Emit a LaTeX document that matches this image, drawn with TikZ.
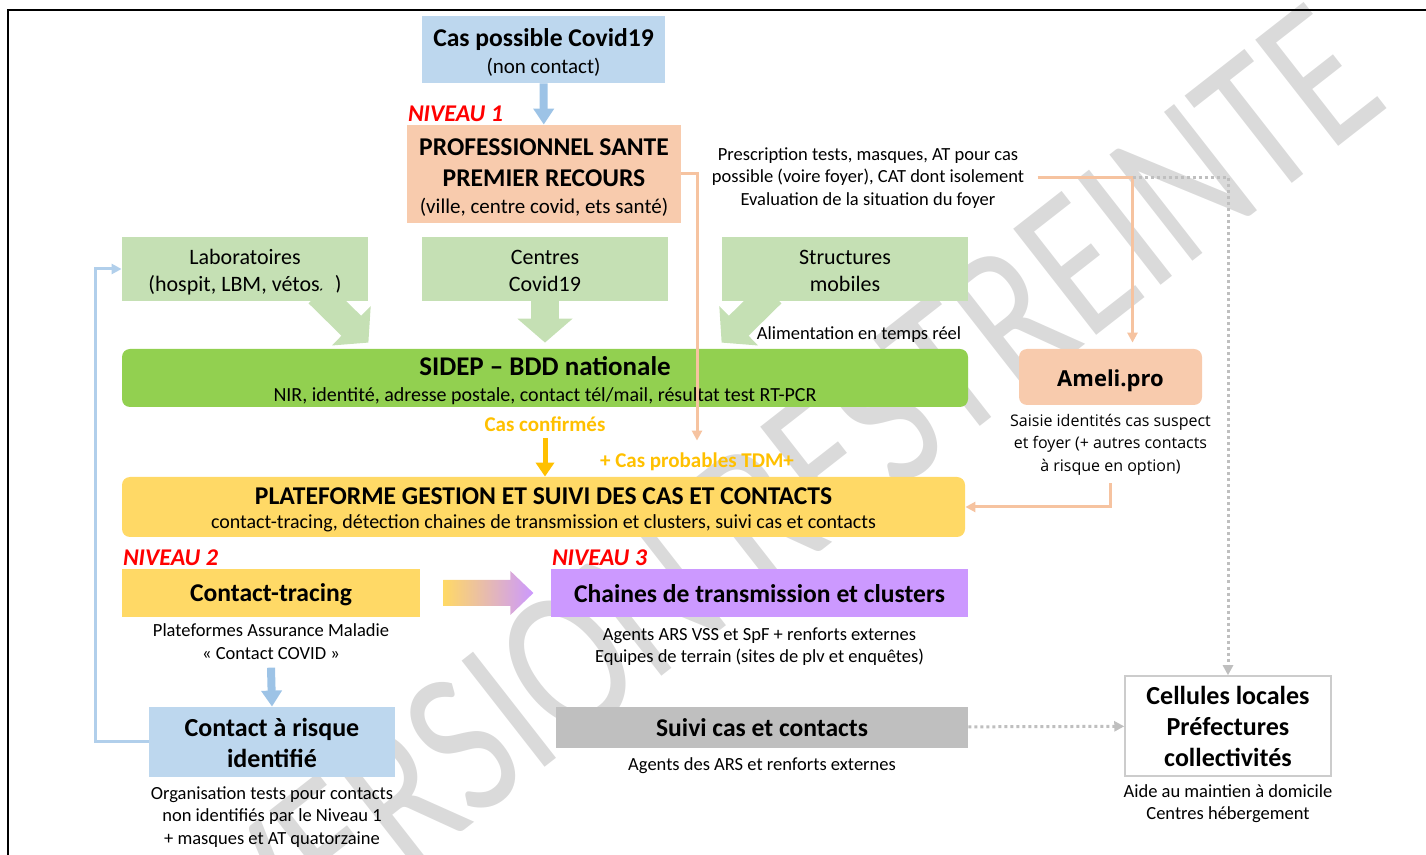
\documentclass[tikz,border=0pt]{standalone}
\usepackage{fontspec}
\setmainfont{Carlito}
\newfontfamily\amelifont{Open Sans}
\usetikzlibrary{arrows.meta,calc,positioning}
\definecolor{bleuclair}{HTML}{BDD7EE}
\definecolor{bleufleche}{HTML}{9DC3E6}
\definecolor{saumon}{HTML}{F8CBAD}
\definecolor{orangetrait}{HTML}{F6C3A0}
\definecolor{vertclair}{HTML}{C5E0B4}
\definecolor{vertsidep}{HTML}{92D050}
\definecolor{jauneor}{HTML}{FFC000}
\definecolor{jaune}{HTML}{FFD966}
\definecolor{mauve}{HTML}{CC99FF}
\definecolor{grisbox}{HTML}{BFBFBF}
\definecolor{grispoint}{HTML}{BFBFBF}
\definecolor{rouge}{HTML}{FF0000}
\definecolor{filigrane}{HTML}{DADADA}
\newcommand\grastitre{\fontsize{12.8}{15}\selectfont\bfseries}
\newcommand\petit{\fontsize{9.25}{11.25}\selectfont}
\newcommand\haut[1]{\rule{0pt}{#1}}
\begin{document}
\begin{tikzpicture}[x=0.5pt, y=-0.5pt,
  every node/.style={align=center, inner sep=0pt},
  boite/.style={rectangle, inner sep=0pt},
  legende/.style={font=\petit},
  niveau/.style={font=\fontsize{12}{14}\selectfont\bfseries\itshape, text=rouge},
  blocbleu/.style={draw=bleufleche, line width=4pt, -{Triangle[width=10pt,length=8pt]}},
  blocor/.style={draw=jauneor, line width=2.5pt, -{Triangle[width=9pt,length=7pt]}},
  grosse/.style={draw=vertclair, line width=14pt, -{Triangle[width=27pt,length=12pt]}},
  traitorange/.style={draw=orangetrait, line width=1.5pt, -{Triangle[width=5pt,length=5pt]}},
  traitbleu/.style={draw=bleufleche!80, line width=1.5pt, -{Triangle[width=5pt,length=5pt]}},
  pointilles/.style={draw=grispoint, line width=1.5pt, dash pattern=on 1.5pt off 1.5pt, -{Triangle[width=5pt,length=5pt]}}]
\useasboundingbox (0,0) rectangle (1426,855);
\node[rotate=38, xscale=0.78, text=filigrane, font=\fontsize{105}{105}\selectfont] (filigrane) at (790,490) {VERSION RESTREINTE};
\draw[line width=1pt] (8,855) -- (8,10) -- (1426,10);

\node[boite, fill=bleuclair, minimum width=121.5pt, minimum height=33.5pt, font=\fontsize{10.5}{13.5}\selectfont] (cas) at (543.5,49.5) {{\grastitre\haut{12pt}Cas possible Covid19}\\(non contact)};
\node[boite, fill=saumon, minimum width=137pt, minimum height=49pt, font=\fontsize{10.5}{15.5}\selectfont] (pro) at (544,174) {{\grastitre\haut{12.2pt}PROFESSIONNEL SANTE}\\{\grastitre PREMIER RECOURS}\\[-2pt](ville, centre covid, ets santé)};
\node[niveau, above right=1.5pt and 0.5pt of pro.north west] (niv1) {NIVEAU 1};
\node[legende] (presc) at (868,178) {Prescription tests, masques, AT pour cas\\possible (voire foyer), CAT dont isolement\\Evaluation de la situation du foyer};

\node[boite, fill=vertclair, minimum width=123pt, minimum height=32pt, font=\fontsize{11}{13.5}\selectfont] (labo) at (245,269) {\haut{10.7pt}Laboratoires\\(hospit, LBM, vétos…)};
\node[boite, fill=vertclair, minimum width=123pt, minimum height=32pt, font=\fontsize{11}{13.5}\selectfont] (centres) at (545,269) {\haut{8.8pt}Centres\\Covid19};
\node[boite, fill=vertclair, minimum width=123pt, minimum height=32pt, font=\fontsize{11}{13.5}\selectfont] (struct) at (845,269) {\haut{8.6pt}Structures\\mobiles};
\node[legende] (alim) at (859,335) {Alimentation en temps réel};

\node[boite, fill=vertsidep, rounded corners=4pt, minimum width=423pt, minimum height=29pt, font=\fontsize{10}{13}\selectfont] (sidep) at (545,378) {{\bfseries\fontsize{13.5}{16}\selectfont\haut{12.5pt}SIDEP – BDD nationale}\\NIR, identité, adresse postale, contact tél/mail, résultat test RT-PCR};
\node[boite, fill=saumon, rounded corners=4pt, minimum width=91.5pt, minimum height=28pt, font=\amelifont\bfseries\fontsize{11}{13}\selectfont] (ameli) at (1110.5,377) {\raisebox{-2pt}[\height][\depth]{Ameli.pro}};
\node[font=\amelifont\fontsize{8}{11.25}\selectfont, below=4pt of ameli] (amelitxt) {Saisie identités cas suspect\\et foyer (+ autres contacts\\à risque en option)};
\coordinate (split) at ([xshift=11pt]ameli.north |- presc.east);

\node[text=jauneor, font=\fontsize{10.5}{12}\selectfont\bfseries] (confirm) at (545,424) {Cas confirmés};
\node[text=jauneor, font=\fontsize{10.5}{12}\selectfont\bfseries] (tdm) at (697,462) {+ Cas probables TDM+};

\node[boite, fill=jaune, rounded corners=4pt, minimum width=421.5pt, minimum height=30pt, font=\fontsize{10}{12}\selectfont] (plat) at (543.5,507) {{\bfseries\fontsize{12.8}{15}\selectfont\haut{10.8pt}PLATEFORME GESTION ET SUIVI DES CAS ET CONTACTS}\\contact-tracing, détection chaines de transmission et clusters, suivi cas et contacts};

\node[boite, fill=jaune, minimum width=149pt, minimum height=24pt, font=\grastitre] (ct) at (271,593) {\raisebox{-1pt}[\height][\depth]{Contact-tracing}};
\node[niveau, above right=1.5pt and 0.5pt of ct.north west] (niv2) {NIVEAU 2};
\node[boite, fill=mauve, minimum width=208.5pt, minimum height=24pt, font=\grastitre] (chaines) at (759.5,593) {\raisebox{-0.5pt}[\height][\depth]{Chaines de transmission et clusters}};
\node[niveau, above right=1.5pt and 0.5pt of chaines.north west] (niv3) {NIVEAU 3};
\node[legende, below=3pt of ct] (cttxt) {Plateformes Assurance Maladie\\« Contact COVID »};
\node[legende, below=5pt of chaines] (chtxt) {Agents ARS VSS et SpF + renforts externes\\Equipes de terrain (sites de plv et enquêtes)};

\node[boite, fill=bleuclair, minimum width=123pt, minimum height=35pt, font=\fontsize{13}{15.5}\selectfont\bfseries] (risque) at (272,742) {\haut{10.5pt}Contact à risque\\identifié};
\node[legende, below=4.25pt of risque] (risktxt) {Organisation tests pour contacts\\non identifiés par le Niveau 1\\+ masques et AT quatorzaine};
\node[boite, fill=grisbox, minimum width=206pt, minimum height=20.5pt, font=\grastitre] (suivi) at (762,727.5) {Suivi cas et contacts};
\node[legende, below=4.5pt of suivi] (suivitxt) {Agents des ARS et renforts externes};
\node[boite, fill=white, draw=black!20, line width=0.75pt, minimum width=103pt, minimum height=50pt, font=\fontsize{13}{15.5}\selectfont\bfseries] (cellules) at (1228,726) {Cellules locales\\Préfectures\\collectivités};
\node[legende, below=3.75pt of cellules] (celltxt) {Aide au maintien à domicile\\Centres hébergement};

\draw[blocbleu] (cas) -- (pro);
\draw[grosse] ([xshift=-25pt,yshift=4pt]labo.south east) -- ([yshift=3pt]labo.south east |- sidep.north);
\draw[grosse] ([yshift=2pt]centres.south) -- ([yshift=3pt]centres.south |- sidep.north);
\draw[grosse] ([xshift=25pt,yshift=4pt]struct.south west) -- ([yshift=3pt]struct.south west |- sidep.north);
\draw[traitorange] (pro.east) -| ([yshift=6pt]tdm.north);
\draw[traitorange, -] ([xshift=6.5pt]presc.east) -- (split);
\draw[traitorange] (split) -- ([yshift=3pt]split |- ameli.north);
\draw[pointilles] (split) -| (cellules.north);
\draw[traitorange] ([yshift=-4pt]amelitxt.south) |- (plat.east);
\draw[blocor] ([yshift=-3pt]confirm.south) -- (confirm |- plat.north);
\shade[left color=jaune, right color=mauve] ($(ct.east)+(23,-13)$) -- ($(ct.east)+(90,-13)$) -- ($(ct.east)+(90,-22)$) -- ($(ct.east)+(113,0)$) -- ($(ct.east)+(90,22)$) -- ($(ct.east)+(90,13)$) -- ($(ct.east)+(23,13)$) -- cycle;
\draw[blocbleu] ([yshift=-4pt]cttxt.south) -- (risque.north);
\draw[traitbleu] (risque.west) -- ++(-53,0) |- (labo.west);
\draw[pointilles] (suivi) -- (cellules);
\end{tikzpicture}
\end{document}
